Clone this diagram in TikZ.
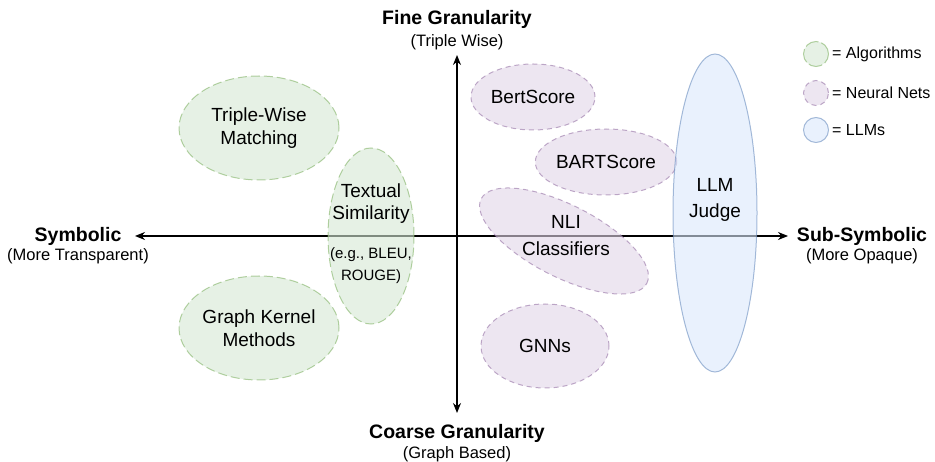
\documentclass[tikz,border=0pt]{standalone}
\usepackage{fontspec}
\setmainfont{Liberation Sans}
\usetikzlibrary{arrows.meta,shapes.geometric}

\definecolor{algfill}{HTML}{D5E8D4}
\definecolor{algline}{HTML}{82B366}
\definecolor{nnfill}{HTML}{E1D5E7}
\definecolor{nnline}{HTML}{9673A6}
\definecolor{llmfill}{HTML}{DAE8FC}
\definecolor{llmline}{HTML}{6C8EBF}

\tikzset{
  blob/.style={ellipse, inner sep=0pt, line width=1pt, fill opacity=0.6,
    draw opacity=0.6, text opacity=1, align=center,
    font=\fontsize{19}{23}\selectfont},
  algo/.style={blob, draw=algline, fill=algfill, dash pattern=on 9pt off 4pt},
  nnet/.style={blob, draw=nnline, fill=nnfill, dash pattern=on 5pt off 4pt},
  llm/.style={blob, draw=llmline, fill=llmfill},
  axtitle/.style={font=\bfseries\fontsize{19.5}{23}\selectfont},
  axsub/.style={font=\fontsize{16.5}{20}\selectfont},
  legtext/.style={anchor=west, inner sep=0pt, font=\fontsize{16}{19}\selectfont},
  axis/.style={line width=1.3pt, {Stealth[length=10pt,width=8pt]}-{Stealth[length=10pt,width=8pt]}}
}

\begin{document}
\begin{tikzpicture}[x=1pt,y=-1pt]
   \useasboundingbox (0,0) rectangle (935,462);

   % axes
   \coordinate (xl) at (135,236);
   \coordinate (xr) at (788,236);
   \coordinate (yt) at (457,55);
   \coordinate (yb) at (457,413);
   \draw[axis] (xl) -- (xr);
   \draw[axis] (yt) -- (yb);

   \path (78,236) node[axtitle] (sym) {Symbolic};
   \path (78,256) node[axsub] (symn) {(More Transparent)};
   \path (862,236) node[axtitle] (sub) {Sub-Symbolic};
   \path (862,256) node[axsub] (subn) {(More Opaque)};
   \path (457,19) node[axtitle] (fine) {Fine Granularity};
   \path (457,42) node[axsub] (finen) {(Triple Wise)};
   \path (457,433) node[axtitle] (coarse) {Coarse Granularity};
   \path (457,454) node[axsub] (coarsen) {(Graph Based)};

   % algorithms
   \path (259,128) node[algo, minimum width=160pt, minimum height=104pt] (TW)
     {Triple-Wise\\Matching};
   \path (259,328) node[algo, minimum width=160pt, minimum height=104pt] (GK)
     {Graph Kernel\\Methods};
   \path (371,236) node[algo, minimum width=86pt, minimum height=176pt] (TS) {};
   \path (371,204) node[align=center, font=\fontsize{19}{22}\selectfont] (TSa)
     {Textual\\Similarity};
   \path (371,266) node[align=center, font=\fontsize{15}{22}\selectfont] (TSb)
     {(e.g., BLEU,\\ROUGE)};

   % neural nets
   \path (533,97) node[nnet, minimum width=124pt, minimum height=66pt] (BS) {BertScore};
   \path (606,162) node[nnet, minimum width=124pt, minimum height=66pt] (BA) {BARTScore};
   \path (564,241) node[nnet, minimum width=186pt, minimum height=72pt, rotate=-27] (NLI) {};
   \path (566,236) node[align=center, font=\fontsize{19}{27}\selectfont] (NLIt) {NLI\\Classifiers};
   \path (545,346) node[nnet, minimum width=128pt, minimum height=84pt] (GNN) {GNNs};

   % llms
   \path (715,213) node[llm, minimum width=84pt, minimum height=318pt] (LJ) {};
   \path (715,200) node[align=center, font=\fontsize{19}{26}\selectfont] (LJt) {LLM\\Judge};

   % legend
   \path (816,54) node[algo, circle, minimum size=25pt, dash pattern=on 14pt off 3pt] (La) {};
   \path (816,93) node[nnet, circle, minimum size=25pt] (Ln) {};
   \path (816,130) node[llm, circle, minimum size=25pt] (Ll) {};
   \path (La.east) ++(3,0) node[legtext] (Lat) {= Algorithms};
   \path (Ln.east) ++(3,0) node[legtext] (Lnt) {= Neural Nets};
   \path (Ll.east) ++(3,0) node[legtext] (Llt) {= LLMs};
\end{tikzpicture}
\end{document}
